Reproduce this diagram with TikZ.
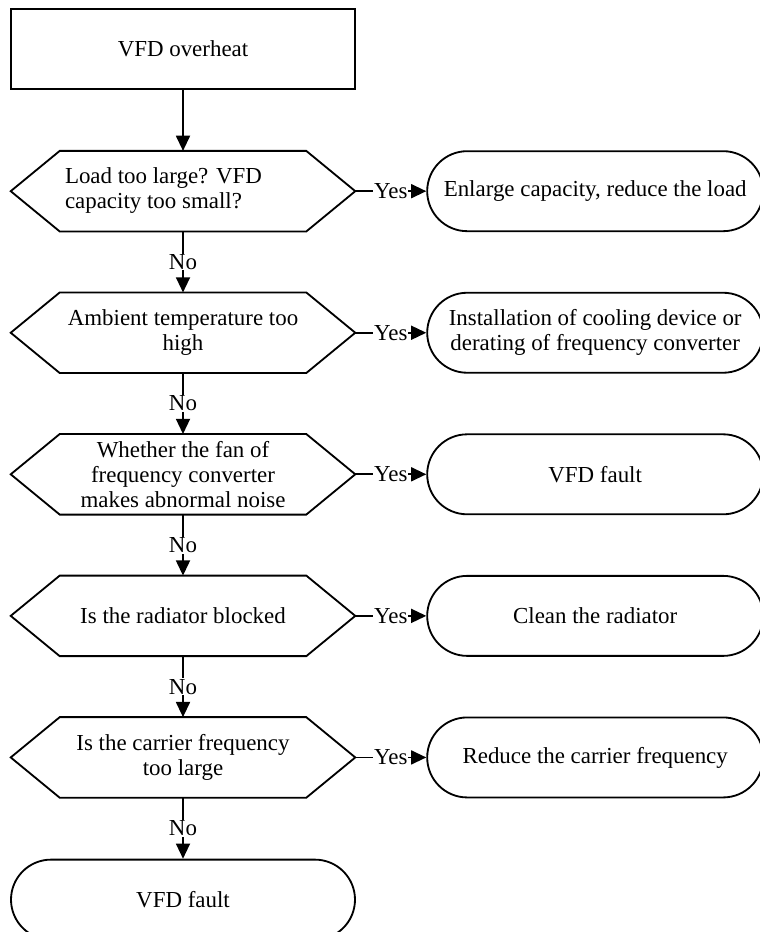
\documentclass[tikz,border=0pt]{standalone}
\usepackage{fontspec}
\setmainfont{Liberation Serif}
\usetikzlibrary{arrows.meta,positioning}
\tikzset{
  >={Triangle[length=3.8mm,width=3.5mm]},
  flow/.style={->, draw=black, line width=1.3pt},
  outline/.style={draw=black, line width=1.3pt, line join=miter},
  startbox/.style={outline, minimum width=8.6cm, minimum height=2cm, align=center},
  decision/.style={minimum width=8.6cm, minimum height=2cm, align=center, inner sep=0pt},
  terminal/.style={outline, rounded corners=1cm, minimum width=8.4cm, minimum height=2cm, align=center},
  branchlabel/.style={fill=white, inner sep=0.6pt},
}

\begin{document}
\begin{tikzpicture}[x=1cm,y=1cm, font=\fontsize{16.3}{17.8}\selectfont]
\useasboundingbox (0,0) rectangle (19,23.3);

% start
\node[startbox] (start) at (4.575,22.075) {VFD overheat};

% questions
\node[decision, below=1.525cm of start] (q1) {\begin{tabular}{@{}p{5.9cm}@{}}Load too large? VFD\\capacity too small?\end{tabular}};
\node[decision, below=1.525cm of q1] (q2) {Ambient temperature too\\high};
\node[decision, below=1.525cm of q2] (q3) {Whether the fan of\\frequency converter\\makes abnormal noise};
\node[decision, below=1.525cm of q3] (q4) {Is the radiator blocked};
\node[decision, below=1.525cm of q4] (q5) {Is the carrier frequency\\too large};
\node[terminal, minimum width=8.6cm, below=1.525cm of q5] (fault) {VFD fault};

\foreach \n in {q1,q2,q3,q4,q5}{
  \draw[outline] (\n.west) -- ([xshift=1.225cm]\n.north west) -- ([xshift=-1.225cm]\n.north east)
    -- (\n.east) -- ([xshift=-1.225cm]\n.south east) -- ([xshift=1.225cm]\n.south west) -- cycle;
}

% actions
\node[terminal, right=1.775cm of q1] (a1) {Enlarge capacity, reduce the load};
\node[terminal, right=1.775cm of q2] (a2) {Installation of cooling device or\\derating of frequency converter};
\node[terminal, right=1.775cm of q3] (a3) {VFD fault};
\node[terminal, right=1.775cm of q4] (a4) {Clean the radiator};
\node[terminal, right=1.775cm of q5] (a5) {Reduce the carrier frequency};

% connectors
\draw[flow] (start.south) -- (q1.north);
\foreach \a/\b in {q1/q2,q2/q3,q3/q4,q4/q5,q5/fault}{
  \draw[flow] (\a.south) -- node[branchlabel] {No} (\b.north);
}
\foreach \i in {1,...,5}{
  \draw[flow] (q\i.east) -- node[branchlabel] {Yes} (a\i.west);
}

\end{tikzpicture}
\end{document}
